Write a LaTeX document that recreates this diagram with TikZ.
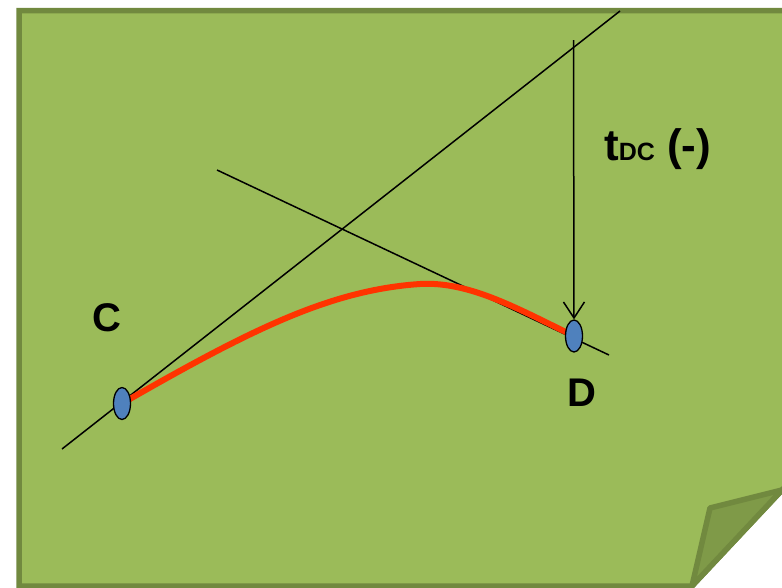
\documentclass[tikz,border=0pt]{standalone}
\usepackage{fontspec}
\setmainfont{Liberation Sans}
\usetikzlibrary{shapes.geometric,arrows.meta}
\definecolor{pagefill}{HTML}{9BBB59}
\definecolor{pageedge}{HTML}{71893F}
\definecolor{foldfill}{HTML}{7F9A48}
\definecolor{pointfill}{HTML}{4F81BD}
\definecolor{curvered}{HTML}{FF3300}
\tikzset{
  pt/.style={ellipse,draw=black,line width=1.3pt,fill=pointfill,minimum width=17pt,minimum height=32pt,inner sep=0pt},
  thin line/.style={draw=black,line width=1.5pt},
  lab/.style={font=\bfseries\fontsize{40}{40}\selectfont,inner sep=0pt},
}
\begin{document}
\begin{tikzpicture}[x=1pt,y=-1pt]
\useasboundingbox (0,0) rectangle (782,587);
\begin{scope}
\clip (0,0) rectangle (782,587);
% page
\path[fill=pagefill,draw=pageedge,line width=5.5pt,line join=miter]
  (19,10.5) -- (830,10.5) -- (830,439) -- (692,586) -- (19,586) -- cycle;
% fold
\path[fill=foldfill,draw=pageedge,line width=5.5pt,line join=round]
  (692,586) -- (710,508) -- (782,490) -- cycle;
\end{scope}
% coordinates
\coordinate (l1a) at (62,449);
\coordinate (l1b) at (620,11);
\coordinate (l2a) at (217,170);
\coordinate (l2b) at (609,355);
\coordinate (ar) at (573.5,40);
\coordinate (cc) at (122,403.5);
\coordinate (dc) at (574,336);
% lines
\draw[thin line] (l1a) -- (l1b);
\draw[thin line] (l2a) -- (l2b);
% red curve
\draw[curvered,line width=6pt,line cap=round]
  (cc) .. controls (250,330) and (330,290) .. (420,284)
       .. controls (470,281) and (520,310) .. (dc);
% points
\node[pt] (C) at (cc) {};
\node[pt] (D) at (dc) {};
% arrow
\draw[thin line,-{Straight Barb[length=16pt,width=21pt,line width=1.5pt]}] (ar) -- (D.north);
% labels
\node[lab,anchor=base] (labC) at (107,331) {C};
\node[lab,anchor=base] (labD) at (582,406) {D};
\node[inner sep=0pt,anchor=base west,font=\bfseries] (labT) at (604,160)
  {{\fontsize{44}{44}\selectfont t}{\fontsize{25}{25}\selectfont DC}{\fontsize{44}{44}\selectfont\ (-)}};
\end{tikzpicture}
\end{document}
